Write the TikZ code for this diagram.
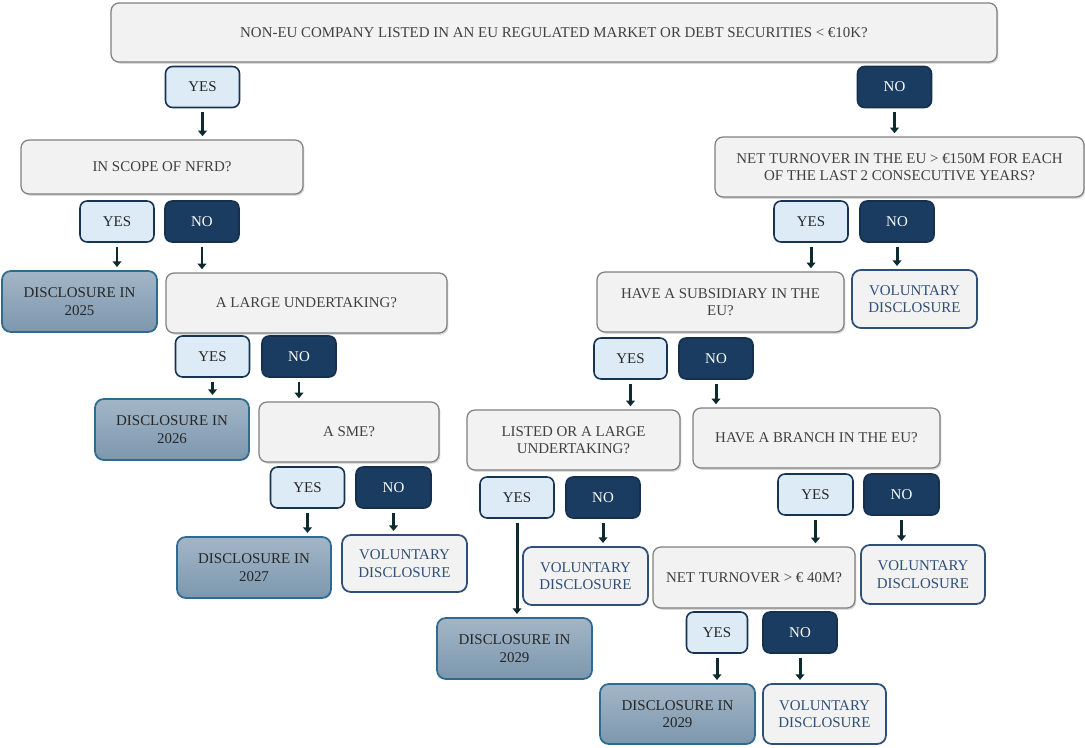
\documentclass[tikz,border=0pt]{standalone}
\usepackage{fontspec}
\setmainfont{Liberation Serif}
\usetikzlibrary{arrows.meta,shadows}
\definecolor{qfill}{HTML}{F2F2F2}
\definecolor{qdraw}{HTML}{7F7F7F}
\definecolor{qtext}{HTML}{404040}
\definecolor{yesfill}{HTML}{DDEBF7}
\definecolor{navy}{HTML}{1A3C61}
\definecolor{dtop}{HTML}{A3B6C7}
\definecolor{dbot}{HTML}{7C97AE}
\definecolor{ddraw}{HTML}{2E6B8E}
\definecolor{voltext}{HTML}{2F4F78}
\definecolor{arrowcol}{HTML}{0D2B2E}

\begin{document}
\begin{tikzpicture}[x=0.02cm, y=-0.02cm, font=\fontsize{8.5}{10}\selectfont]
    \tikzstyle{question} = [rectangle, draw=qdraw, fill=qfill, text=qtext, align=center, rounded corners=4.5pt, line width=0.7pt, drop shadow={opacity=0.3, shadow xshift=0.8pt, shadow yshift=-1pt}]
    \tikzstyle{yes} = [rectangle, draw=navy!85!black, fill=yesfill, text=black!85, rounded corners=4pt, line width=0.9pt, minimum width=1.48cm, minimum height=0.82cm]
    \tikzstyle{no} = [rectangle, draw=navy!80!black, fill=navy, text=white, rounded corners=4pt, line width=0.9pt, minimum width=1.48cm, minimum height=0.82cm]
    \tikzstyle{disclosure} = [rectangle, draw=ddraw, top color=dtop, bottom color=dbot, text=black!85, align=center, rounded corners=5pt, line width=1pt, minimum width=3.1cm, minimum height=1.22cm]
    \tikzstyle{voluntary} = [rectangle, draw=voltext, fill=qfill, text=voltext, align=center, rounded corners=5pt, line width=1pt, minimum width=2.5cm, minimum height=1.16cm]
    \tikzstyle{arr} = [-{Triangle[width=5pt,length=3.2pt]}, arrowcol, line width=1.7pt, shorten <=2.2pt, shorten >=1.8pt]

    \useasboundingbox (0,0) rectangle (1085,747);

    \node [question, minimum width=17.72cm, minimum height=1.18cm] (q0) at (554,32.5) {NON-EU COMPANY LISTED IN AN EU REGULATED MARKET OR DEBT SECURITIES < €10K?};
    \node [yes] (yes0) at (202.5,87) {YES};
    \node [no] (no0) at (894.5,87) {NO};

    \node [question, minimum width=5.64cm, minimum height=1.08cm] (qnfrd) at (162,167) {IN SCOPE OF NFRD?};
    \node [yes] (yes1) at (117,221.5) {YES};
    \node [no] (no1) at (202,221.5) {NO};
    \node [disclosure] (d2025) at (79.5,301.5) {DISCLOSURE IN\\2025};
    \node [question, minimum width=5.62cm, minimum height=1.2cm] (qlarge) at (306.5,303) {A LARGE UNDERTAKING?};
    \node [yes] (yes2) at (212.5,356.5) {YES};
    \node [no] (no2) at (299,356.5) {NO};
    \node [disclosure, minimum width=3.08cm] (d2026) at (172,429.5) {DISCLOSURE IN\\2026};
    \node [question, minimum width=3.6cm, minimum height=1.2cm] (qsme) at (349,432) {A SME?};
    \node [yes] (yes3) at (307.5,487.5) {YES};
    \node [no, minimum width=1.5cm] (no3) at (393.5,487.5) {NO};
    \node [disclosure, minimum width=3.08cm] (d2027) at (254,567.5) {DISCLOSURE IN\\2027};
    \node [voluntary, minimum height=1.14cm] (vol1) at (404.5,563.5) {VOLUNTARY\\DISCLOSURE};

    \node [question, minimum width=7.38cm, minimum height=1.2cm] (qturn) at (899.5,167) {NET TURNOVER IN THE EU > €150M FOR EACH\\OF THE LAST 2 CONSECUTIVE YEARS?};
    \node [yes] (yes4) at (811,221.5) {YES};
    \node [no] (no4) at (897,221.5) {NO};
    \node [question, minimum width=4.94cm, minimum height=1.2cm] (qsub) at (720.5,302) {HAVE A SUBSIDIARY IN THE\\EU?};
    \node [voluntary] (vol2) at (914.5,299) {VOLUNTARY\\DISCLOSURE};
    \node [yes, minimum width=1.46cm] (yes5) at (630.5,358.5) {YES};
    \node [no] (no5) at (716,358.5) {NO};
    \node [question, minimum width=4.26cm, minimum height=1.2cm] (qlisted) at (573.5,440) {LISTED OR A LARGE\\UNDERTAKING?};
    \node [question, minimum width=4.94cm, minimum height=1.2cm] (qbranch) at (816.5,438) {HAVE A BRANCH IN THE EU?};
    \node [yes] (yes6) at (517,497.5) {YES};
    \node [no] (no6) at (603,497.5) {NO};
    \node [voluntary] (vol3) at (585.5,576) {VOLUNTARY\\DISCLOSURE};
    \node [disclosure] (d2029a) at (514.5,648.5) {DISCLOSURE IN\\2029};
    \node [yes, minimum width=1.5cm] (yes7) at (815.5,494.5) {YES};
    \node [no, minimum width=1.5cm] (no7) at (901.5,494.5) {NO};
    \node [question, minimum width=4.04cm, minimum height=1.22cm] (q40) at (754,577.5) {NET TURNOVER > € 40M?};
    \node [voluntary, minimum width=2.48cm, minimum height=1.18cm] (vol4) at (923,574.5) {VOLUNTARY\\DISCLOSURE};
    \node [yes, minimum width=1.22cm] (yes8) at (717,632.5) {YES};
    \node [no] (no8) at (800,632.5) {NO};
    \node [disclosure, minimum height=1.2cm] (d2029b) at (677.5,714) {DISCLOSURE IN\\2029};
    \node [voluntary, minimum width=2.46cm, minimum height=1.2cm] (vol5) at (824.5,714) {VOLUNTARY\\DISCLOSURE};

    \draw [arr] (yes0.south) -- (yes0.south |- qnfrd.north);
    \draw [arr] (no0.south) -- (no0.south |- qturn.north);
    \draw [arr] (yes1.south) -- (yes1.south |- d2025.north);
    \draw [arr] (no1.south) -- (no1.south |- qlarge.north);
    \draw [arr] (yes2.south) -- (yes2.south |- d2026.north);
    \draw [arr] (no2.south) -- (no2.south |- qsme.north);
    \draw [arr] (yes3.south) -- (yes3.south |- d2027.north);
    \draw [arr] (no3.south) -- (no3.south |- vol1.north);
    \draw [arr] (yes4.south) -- (yes4.south |- qsub.north);
    \draw [arr] (no4.south) -- (no4.south |- vol2.north);
    \draw [arr] (yes5.south) -- (yes5.south |- qlisted.north);
    \draw [arr] (no5.south) -- (no5.south |- qbranch.north);
    \draw [arr] (yes6.south) -- (yes6.south |- d2029a.north);
    \draw [arr] (no6.south) -- (no6.south |- vol3.north);
    \draw [arr] (yes7.south) -- (yes7.south |- q40.north);
    \draw [arr] (no7.south) -- (no7.south |- vol4.north);
    \draw [arr] (yes8.south) -- (yes8.south |- d2029b.north);
    \draw [arr] (no8.south) -- (no8.south |- vol5.north);
\end{tikzpicture}
\end{document}
